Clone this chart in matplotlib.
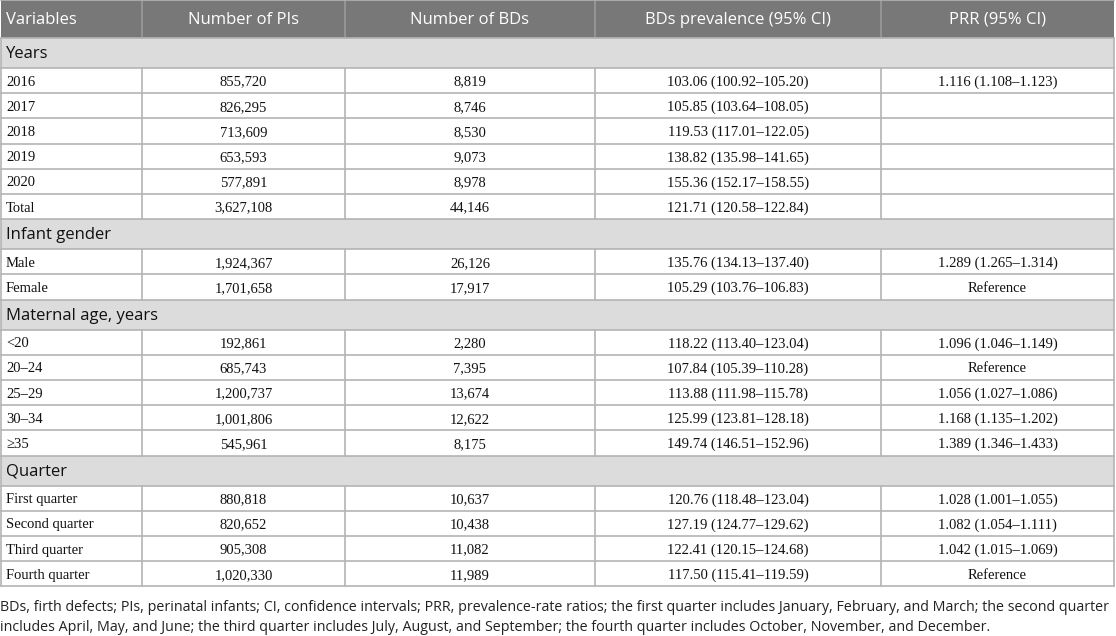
import matplotlib
matplotlib.use("Agg")
import matplotlib.pyplot as plt
from matplotlib.patches import Rectangle

# column headers and the table body
headers = ["Variables", "Number of PIs", "Number of BDs",
           "BDs prevalence (95% CI)", "PRR (95% CI)"]

sections = ["Years", "Infant gender", "Maternal age, years", "Quarter"]

years_rows = ["2016", "2017", "2018", "2019", "2020", "Total"]
years_pis = ["855,720", "826,295", "713,609", "653,593", "577,891", "3,627,108"]
years_bds = ["8,819", "8,746", "8,530", "9,073", "8,978", "44,146"]
years_prev = ["103.06 (100.92\u2013105.20)", "105.85 (103.64\u2013108.05)",
              "119.53 (117.01\u2013122.05)", "138.82 (135.98\u2013141.65)",
              "155.36 (152.17\u2013158.55)", "121.71 (120.58\u2013122.84)"]
years_prr = ["1.116 (1.108\u20131.123)", "", "", "", "", ""]

gender_rows = ["Male", "Female"]
gender_pis = ["1,924,367", "1,701,658"]
gender_bds = ["26,126", "17,917"]
gender_prev = ["135.76 (134.13\u2013137.40)", "105.29 (103.76\u2013106.83)"]
gender_prr = ["1.289 (1.265\u20131.314)", "Reference"]

age_rows = ["<20", "20\u201324", "25\u201329", "30\u201334", "\u226535"]
age_pis = ["192,861", "685,743", "1,200,737", "1,001,806", "545,961"]
age_bds = ["2,280", "7,395", "13,674", "12,622", "8,175"]
age_prev = ["118.22 (113.40\u2013123.04)", "107.84 (105.39\u2013110.28)",
            "113.88 (111.98\u2013115.78)", "125.99 (123.81\u2013128.18)",
            "149.74 (146.51\u2013152.96)"]
age_prr = ["1.096 (1.046\u20131.149)", "Reference", "1.056 (1.027\u20131.086)",
           "1.168 (1.135\u20131.202)", "1.389 (1.346\u20131.433)"]

quarter_rows = ["First quarter", "Second quarter", "Third quarter", "Fourth quarter"]
quarter_pis = ["880,818", "820,652", "905,308", "1,020,330"]
quarter_bds = ["10,637", "10,438", "11,082", "11,989"]
quarter_prev = ["120.76 (118.48\u2013123.04)", "127.19 (124.77\u2013129.62)",
                "122.41 (120.15\u2013124.68)", "117.50 (115.41\u2013119.59)"]
quarter_prr = ["1.028 (1.001\u20131.055)", "1.082 (1.054\u20131.111)",
               "1.042 (1.015\u20131.069)", "Reference"]

footnote = ("BDs, firth defects; PIs, perinatal infants; CI, confidence intervals; PRR, "
            "prevalence-rate ratios; the first quarter includes January, February, and March; "
            "the second quarter\nincludes April, May, and June; the third quarter includes "
            "July, August, and September; the fourth quarter includes October, November, and December.")

blocks = [
    (sections[0], list(zip(years_rows, years_pis, years_bds, years_prev, years_prr))),
    (sections[1], list(zip(gender_rows, gender_pis, gender_bds, gender_prev, gender_prr))),
    (sections[2], list(zip(age_rows, age_pis, age_bds, age_prev, age_prr))),
    (sections[3], list(zip(quarter_rows, quarter_pis, quarter_bds, quarter_prev, quarter_prr))),
]

# layout in pixels
W, H = 1116, 636
col_edges = [1, 142, 345, 595, 881, 1114]
header_h = 38
section_h = 30
row_h = 25.2

head_bg = "#787878"
sect_bg = "#dcdcdc"
line_c = "#b4b4b4"
sans = ["Open Sans", "DejaVu Sans"]
serif = ["Liberation Serif", "DejaVu Serif"]

fig = plt.figure(figsize=(W / 100, H / 100), dpi=100)
ax = fig.add_axes([0, 0, 1, 1])
ax.set_xlim(0, W)
ax.set_ylim(H, 0)
ax.axis("off")

left, right = col_edges[0], col_edges[-1]

# header
ax.add_patch(Rectangle((left, 0), right - left, header_h, color=head_bg, lw=0))
for i, h in enumerate(headers):
    if i == 0:
        ax.text(left + 5, header_h / 2 + 1, h, ha="left", va="center",
                color="white", fontsize=12, family=sans)
    else:
        cx = (col_edges[i] + col_edges[i + 1]) / 2
        ax.text(cx, header_h / 2 + 1, h, ha="center", va="center",
                color="white", fontsize=12, family=sans)
for xe in col_edges[1:-1]:
    ax.plot([xe, xe], [0, header_h], color="#9a9a9a", lw=1.2)

y = header_h
hlines = [0, y]
for title, rows in blocks:
    ax.add_patch(Rectangle((left, y), right - left, section_h, color=sect_bg, lw=0))
    ax.text(left + 5, y + section_h / 2 + 1, title, ha="left", va="center",
            color="#111111", fontsize=12, family=sans)
    y += section_h
    hlines.append(y)
    top = y
    for r in rows:
        cy = y + row_h / 2
        ax.text(left + 5, cy, r[0], ha="left", va="center_baseline",
                color="#111111", fontsize=10.5, family=serif)
        for i in range(1, 5):
            cx = (col_edges[i] + col_edges[i + 1]) / 2
            ax.text(cx, cy, r[i], ha="center", va="center_baseline",
                    color="#111111", fontsize=10.5, family=serif)
        y += row_h
        hlines.append(y)
    for xe in col_edges[1:-1]:
        ax.plot([xe, xe], [top, y], color=line_c, lw=1.2)
    ax.plot([left, left], [top - section_h, y], color=line_c, lw=1.2)
    ax.plot([right, right], [top - section_h, y], color=line_c, lw=1.2)

for hy in hlines:
    ax.plot([left, right], [hy, hy], color=line_c, lw=1.2)

ax.text(0, y + 14, footnote, ha="left", va="top", fontsize=10.3,
        family=sans, color="#222222", linespacing=1.45)

fig.savefig("out.png", dpi=100)
